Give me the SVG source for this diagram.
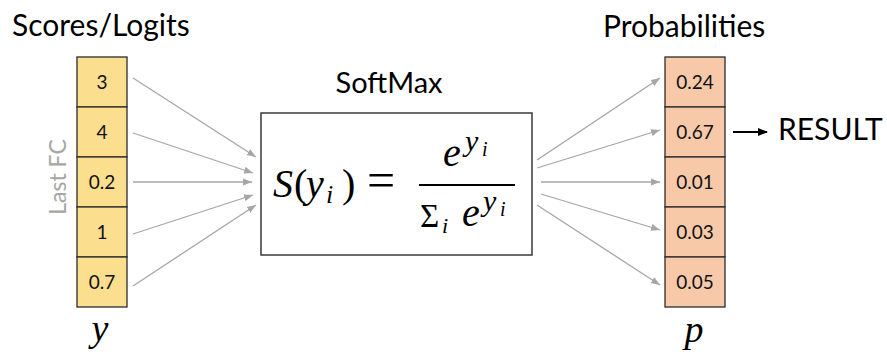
<svg xmlns="http://www.w3.org/2000/svg" width="887" height="358" viewBox="0 0 887 358">
<style>
.lbl{font-family:Lato,"Open Sans","Liberation Sans",sans-serif;fill:#000}
.cell-y{fill:#FCDF8E;stroke:#2b2b2b;stroke-width:1.3}
.cell-p{fill:#F7C9A9;stroke:#2b2b2b;stroke-width:1.3}
.num{font-family:Lato,"Open Sans","Liberation Sans",sans-serif;font-size:19px;text-anchor:middle;fill:#111}
.conn{stroke:#A6A6A6;stroke-width:1.3;fill:none;marker-end:url(#ah)}
.math{font-family:"Liberation Serif","Times New Roman",serif;fill:#000}
.it{font-style:italic}
</style>
<defs>
<marker id="ah" markerUnits="userSpaceOnUse" markerWidth="10" markerHeight="8" refX="9" refY="4" orient="auto">
<path d="M0,0.5 L9,4 L0,7.5 z" fill="#A6A6A6"/>
</marker>
<marker id="ahb" markerUnits="userSpaceOnUse" markerWidth="10" markerHeight="8" refX="9" refY="4" orient="auto">
<path d="M0,0 L10,4 L0,8 z" fill="#000"/>
</marker>
</defs>

<g id="title-scores"><text class="lbl" x="12" y="36" font-size="30">Scores/Logits</text></g>
<g id="title-probs"><text class="lbl" x="603" y="37" font-size="30">Probabilities</text></g>
<g id="title-softmax"><text class="lbl" x="389" y="93" font-size="29" text-anchor="middle">SoftMax</text></g>

<g id="last-fc"><text class="lbl" x="0" y="0" font-size="23" style="fill:#A6A6A6" text-anchor="middle" transform="translate(66,177) rotate(-90)">Last FC</text></g>

<g id="logits">
<rect class="cell-y" x="77" y="57" width="50" height="50"/>
<rect class="cell-y" x="77" y="107" width="50" height="50"/>
<rect class="cell-y" x="77" y="157" width="50" height="50"/>
<rect class="cell-y" x="77" y="207" width="50" height="50"/>
<rect class="cell-y" x="77" y="257" width="50" height="50"/>
<text class="num" x="102" y="89">3</text>
<text class="num" x="102" y="139">4</text>
<text class="num" x="102" y="189">0.2</text>
<text class="num" x="102" y="239">1</text>
<text class="num" x="102" y="289">0.7</text>
</g>

<g id="probs">
<rect class="cell-p" x="665" y="57" width="60" height="50"/>
<rect class="cell-p" x="665" y="107" width="60" height="50"/>
<rect class="cell-p" x="665" y="157" width="60" height="50"/>
<rect class="cell-p" x="665" y="207" width="60" height="50"/>
<rect class="cell-p" x="665" y="257" width="60" height="50"/>
<text class="num" x="695" y="89">0.24</text>
<text class="num" x="695" y="139">0.67</text>
<text class="num" x="695" y="189">0.01</text>
<text class="num" x="695" y="239">0.03</text>
<text class="num" x="695" y="289">0.05</text>
</g>

<g id="softmax">
<rect x="261" y="113" width="271" height="142" fill="#fff" stroke="#3a3a3a" stroke-width="1.5"/>
<text class="math" font-size="40"><tspan class="it" x="273" y="197">S</tspan><tspan x="294" y="197">(</tspan><tspan class="it" x="306" y="197">y</tspan><tspan class="it" x="326" y="203" font-size="26">i</tspan><tspan x="342" y="197">)</tspan><tspan x="367" y="197" font-size="50">=</tspan></text>
<line x1="419" y1="185" x2="515" y2="185" stroke="#000" stroke-width="2"/>
<text class="math" font-size="40"><tspan class="it" x="443" y="166">e</tspan><tspan class="it" x="465" y="151" font-size="30">y</tspan><tspan class="it" x="482" y="156" font-size="20">i</tspan></text>
<text class="math" font-size="33"><tspan x="420" y="227">Σ</tspan><tspan class="it" x="442" y="233" font-size="22">i</tspan><tspan class="it" x="462" y="226" font-size="40">e</tspan><tspan class="it" x="483" y="211" font-size="30">y</tspan><tspan class="it" x="500" y="216" font-size="20">i</tspan></text>
</g>

<g id="var-y"><text class="math it" x="100" y="341" font-size="38" text-anchor="middle">y</text></g>
<g id="var-p"><text class="math it" x="694" y="342" font-size="38" text-anchor="middle">p</text></g>

<g id="result"><text class="lbl" x="778" y="140" font-size="30">RESULT</text></g>

<g id="connectors">
<line class="conn" x1="133" y1="78" x2="256" y2="157"/>
<line class="conn" x1="133" y1="133" x2="253" y2="173"/>
<line class="conn" x1="133" y1="182" x2="252" y2="182"/>
<line class="conn" x1="133" y1="234" x2="253" y2="195"/>
<line class="conn" x1="133" y1="286" x2="256" y2="205"/>
<line class="conn" x1="537" y1="160" x2="660" y2="78"/>
<line class="conn" x1="537" y1="168" x2="660" y2="130"/>
<line class="conn" x1="541" y1="182" x2="660" y2="182"/>
<line class="conn" x1="541" y1="194" x2="660" y2="230"/>
<line class="conn" x1="537" y1="205" x2="660" y2="285"/>
<line x1="733" y1="132" x2="767" y2="132" stroke="#000" stroke-width="2" marker-end="url(#ahb)"/>
</g>
</svg>
